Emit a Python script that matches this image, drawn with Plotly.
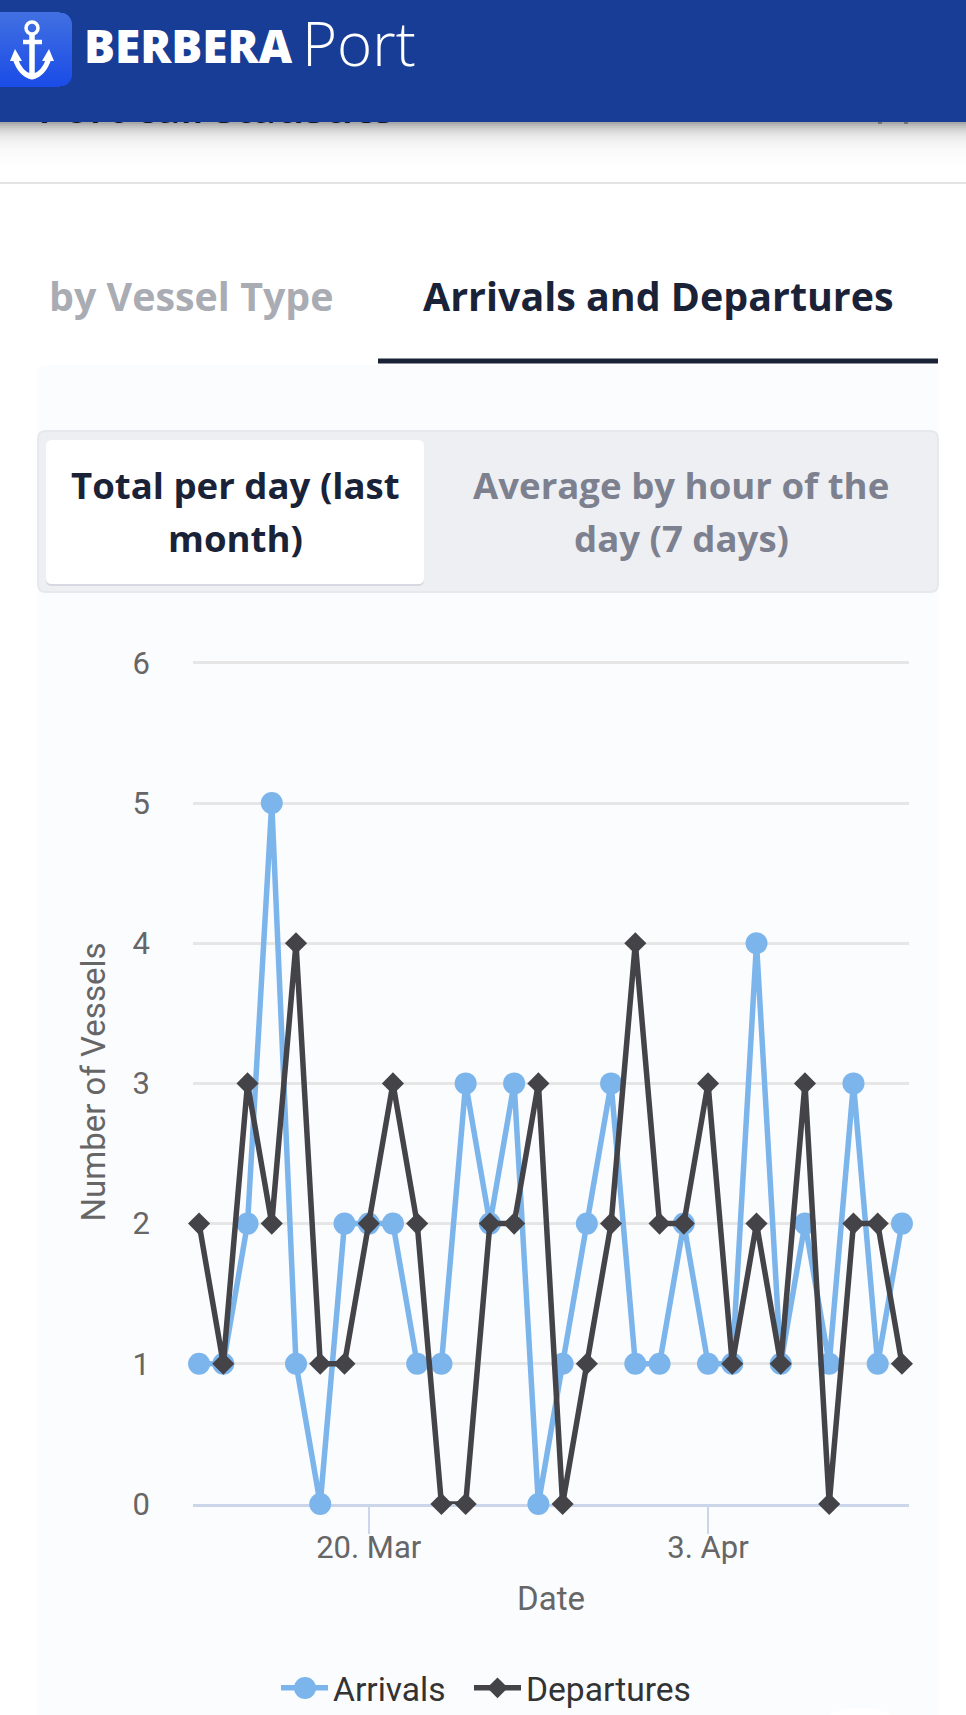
import math

import pandas as pd
import plotly.graph_objects as go

W, H = 966, 1715

dates = pd.date_range("2023-03-13", "2023-04-11", freq="D")
arrivals = [1, 1, 2, 5, 1, 0, 2, 2, 2, 1, 1, 3, 2, 3, 0, 1, 2, 3, 1, 1, 2, 1, 1, 4, 1, 2, 1, 3, 1, 2]
departures = [2, 1, 3, 2, 4, 1, 1, 2, 3, 2, 0, 0, 2, 2, 3, 0, 1, 2, 4, 2, 2, 3, 1, 2, 1, 3, 0, 2, 2, 1]
tick_dates = ["2023-03-20", "2023-04-03"]
tick_labels = ["20. Mar", "3. Apr"]
y_ticks = [0, 1, 2, 3, 4, 5, 6]

HEADER = "#173d96"
INK = "#1a2238"
GREY = "#666666"
BLUE = "#7cb5ec"
DARK = "#434348"


def round_rect(x0, y0, x1, y1, r):
    return (f"M{x0+r},{y0} L{x1-r},{y0} Q{x1},{y0} {x1},{y0+r} L{x1},{y1-r} Q{x1},{y1} {x1-r},{y1} "
            f"L{x0+r},{y1} Q{x0},{y1} {x0},{y1-r} L{x0},{y0+r} Q{x0},{y0} {x0+r},{y0} Z")


def chrome(path=None, layer="below", fill=None, line=None, width=0, **kw):
    # page furniture, drawn in pixel units on the hidden x/y axes
    d = dict(xref="x", yref="y", layer=layer, line=dict(width=width, color=line or "rgba(0,0,0,0)"))
    if fill:
        d["fillcolor"] = fill
    if path:
        d.update(type="path", path=path)
    d.update(kw)
    return d


shapes = []
# chart panel and tabs
shapes.append(chrome(round_rect(38, 365, 938, 1760, 7), fill="#fbfcfe"))
shapes.append(chrome(type="rect", x0=378, x1=938, y0=358.5, y1=363.5, fill=INK))
shapes.append(chrome(type="rect", x0=0, x1=W, y0=182, y1=184, fill="#e3e3e3"))
shapes.append(chrome(round_rect(38, 431, 938, 592, 8), fill="#eeeff3", line="#e6e8ed", width=2))
shapes.append(chrome(round_rect(46, 442, 424, 586, 6), fill="#d6d9e0"))
shapes.append(chrome(round_rect(46, 440, 424, 584, 6), fill="#ffffff"))
shapes.append(chrome(type="circle", x0=784, x1=936, y0=1708, y1=1860, fill="#ffffff"))

# header shadow
for y in range(122, 166, 2):
    alpha = 0.34 * math.exp(-(y - 122) / 10)
    shapes.append(chrome(type="rect", layer="above", x0=0, x1=W, y0=y, y1=y + 2, fill=f"rgba(0,0,0,{alpha:.3f})"))
# clipped bits of the close button sitting under the header
for x in (880, 906):
    shapes.append(chrome(type="rect", layer="above", x0=x - 2, x1=x + 2, y0=122, y1=124, fill="#70737c"))
shapes.append(chrome(type="rect", layer="above", x0=0, x1=W, y0=0, y1=122, fill=HEADER))

# logo tile, stepped gradient
for y in range(12, 87):
    t = (y - 12) / 75
    c = f"rgb({int(66 - 40*t)},{int(112 - 36*t)},{int(226 + 6*t)})"
    d = 12 - min(y - 12, 86 - y, 12)
    inset = 12 - math.sqrt(max(144 - d * d, 0)) if d > 0 else 0
    shapes.append(chrome(type="rect", layer="above", x0=0, x1=72 - inset, y0=y, y1=y + 1, fill=c))
shapes.append(chrome(type="circle", layer="above", x0=26, x1=38, y0=22, y1=34, line="#ffffff", width=3.5))
shapes.append(chrome("M32,34 L32,76", layer="above", line="#ffffff", width=5.5))
shapes.append(chrome("M23,42 L42,42", layer="above", line="#ffffff", width=4.5))
shapes.append(chrome("M15,58 Q20,74 32,77 Q44,74 49,58", layer="above", line="#ffffff", width=5))
shapes.append(chrome("M15,49 L10,61 L22,61 Z", layer="above", fill="#ffffff"))
shapes.append(chrome("M49,49 L54,61 L42,61 Z", layer="above", fill="#ffffff"))
# enlarges the round legend key, the library caps legend markers at 16px
shapes.append(chrome(type="circle", layer="above", x0=294, x1=316, y0=1677, y1=1699, fill=BLUE))


def label(text, x, y, size, color, weight=700, family="Open Sans", anchor="center"):
    return dict(text=text, x=x, y=y, xref="x", yref="y", xanchor=anchor, yanchor="middle", showarrow=False,
                font=dict(family=family, size=size, color=color, weight=weight))


annotations = [
    label("BERBERA", 82, 45, 46, "#ffffff", weight=800, anchor="left"),
    label("Port", 300, 43, 60, "#ffffff", weight=300, anchor="left"),
    label("by Vessel Type", 191, 296, 39.4, "#a9acb3"),
    label("Arrivals and Departures", 658, 296, 39.4, INK),
    label("Total per day (last", 235, 485, 36.6, INK),
    label("month)", 235, 538, 36.6, INK),
    label("Average by hour of the", 681, 485, 36.6, "#7d818f"),
    label("day (7 days)", 681, 538, 36.6, "#7d818f"),
]

fig = go.Figure()
# section title that has scrolled under the header
fig.add_trace(go.Scatter(x=[38], y=[112], text=["Port call statistics"], mode="text", textposition="middle right",
                         textfont=dict(family="Open Sans", size=42, color=INK, weight=600),
                         xaxis="x", yaxis="y", showlegend=False, hoverinfo="skip"))
fig.add_trace(go.Scatter(x=dates, y=arrivals, name="Arrivals", mode="lines+markers", cliponaxis=False,
                         xaxis="x2", yaxis="y2", legend="legend",
                         line=dict(color=BLUE, width=5.5),
                         marker=dict(symbol="circle", size=22, color=BLUE)))
fig.add_trace(go.Scatter(x=dates, y=departures, name="Departures", mode="lines+markers", cliponaxis=False,
                         xaxis="x2", yaxis="y2", legend="legend2",
                         line=dict(color=DARK, width=5.5),
                         marker=dict(symbol="diamond", size=17, color=DARK)))

legend_font = dict(family="Roboto", size=33.6, color="#333333")
fig.update_layout(
    width=W, height=H, margin=dict(l=0, r=0, t=0, b=0, autoexpand=False), autosize=False,
    paper_bgcolor="#ffffff", plot_bgcolor="rgba(0,0,0,0)",
    font=dict(family="Roboto", color=GREY),
    shapes=shapes, annotations=annotations,
    showlegend=True,
    legend=dict(orientation="h", x=276 / W, xanchor="left", y=1 - 1688 / H, yanchor="middle",
                bgcolor="rgba(0,0,0,0)", font=legend_font, itemwidth=47),
    legend2=dict(orientation="h", x=469 / W, xanchor="left", y=1 - 1688 / H, yanchor="middle",
                 bgcolor="rgba(0,0,0,0)", font=legend_font, itemwidth=47),
    xaxis=dict(domain=[0, 1], range=[0, W], visible=False, fixedrange=True, anchor="y"),
    yaxis=dict(domain=[0, 1], range=[H, 0], visible=False, fixedrange=True, anchor="x"),
    xaxis2=dict(domain=[193 / W, 909 / W], type="date", range=["2023-03-12 18:00", "2023-04-11 07:00"],
                anchor="y2", tickvals=tick_dates, ticktext=tick_labels, tickfont=dict(size=31, color=GREY),
                ticks="outside", ticklen=27, tickwidth=2, tickcolor="#ccd6eb", ticklabelstandoff=-13,
                showline=True, linecolor="#ccd6eb", linewidth=3, showgrid=False, zeroline=False,
                layer="below traces",
                title=dict(text="Date", font=dict(size=33, color=GREY), standoff=22)),
    # range runs a hair past 6 so the top gridline is still drawn
    yaxis2=dict(domain=[1 - 1504 / H, 1 - 660 / H], range=[0, 6.02], tickvals=y_ticks, anchor="x2",
                tickfont=dict(size=31, color=GREY), ticks="", ticklabelstandoff=42,
                showgrid=True, gridcolor="#e6e6e6", gridwidth=3, zeroline=False, showline=False,
                title=dict(text="Number of Vessels", font=dict(size=33, color=GREY), standoff=17)),
)

fig.write_html("out.html", post_script="document.body.style.margin='0';", config={"displayModeBar": False})
